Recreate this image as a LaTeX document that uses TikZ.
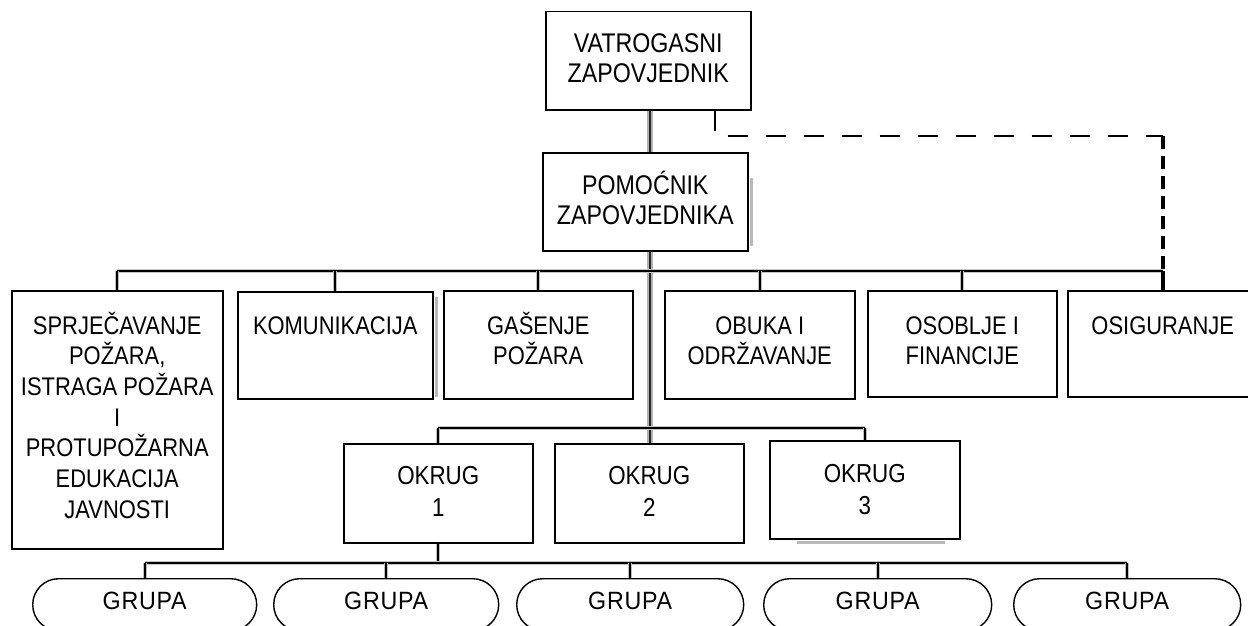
\documentclass[tikz,border=0pt]{standalone}
\usepackage{fontspec}
\setmainfont{Liberation Sans}[FakeStretch=0.86]
\newfontfamily\grfont{Liberation Sans}[FakeStretch=0.93,LetterSpace=3]
\usetikzlibrary{calc}
\begin{document}
\begin{tikzpicture}[x=1pt,y=-1pt,
  box/.style={draw, line width=1.5pt, inner sep=0pt, anchor=north west},
  grp/.style={draw, line width=1.4pt, inner sep=0pt, anchor=north west, rounded corners=26pt, minimum height=52pt},
  txt/.style={align=center, inner sep=0pt, anchor=base},
  topf/.style={font=\fontsize{27}{30.5}\selectfont},
  rowf/.style={font=\fontsize{25.5}{30.7}\selectfont},
  okf/.style={font=\fontsize{26}{32}\selectfont},
  grf/.style={font=\grfont\fontsize{25}{30}\selectfont},
  bus/.style={line width=1.3pt, black, preaction={draw, gray!45, line width=3.6pt}},
  drop/.style={line width=1.6pt, black, preaction={draw, gray!50, line width=4pt}},
  trunk/.style={line width=2.6pt, black!85, preaction={draw, gray!60, line width=6.5pt}},
  dashthin/.style={line width=2.2pt, dash pattern=on 20pt off 18pt},
  dashthick/.style={line width=4.5pt, dash pattern=on 13pt off 7pt},
  solidthick/.style={line width=4.5pt, black},
  shadowline/.style={line width=3pt, gray!55}
]
\useasboundingbox (0,0) rectangle (1248,626);
\clip (0,0) rectangle (1248,626);

% boxes
\node[box, minimum width=205pt, minimum height=98pt] (vz) at (545,11) {};
\node[box, minimum width=205pt, minimum height=98pt] (pz) at (542,152) {};
\node[box, minimum width=211pt, minimum height=258pt] (spr) at (11,290) {};
\node[box, minimum width=195pt, minimum height=107pt] (kom) at (237,291) {};
\node[box, minimum width=189pt, minimum height=108pt] (gas) at (443,290) {};
\node[box, minimum width=190pt, minimum height=108pt] (obu) at (664,290) {};
\node[box, minimum width=189pt, minimum height=106pt] (oso) at (867,290) {};
\node[box, minimum width=190pt, minimum height=106pt] (osi) at (1067,290) {};
\node[box, minimum width=189pt, minimum height=99pt] (ok1) at (343,443) {};
\node[box, minimum width=189pt, minimum height=99pt] (ok2) at (554,443) {};
\node[box, minimum width=190pt, minimum height=98pt] (ok3) at (769,440) {};
\node[grp, minimum width=224pt] (g1) at (32,578) {};
\node[grp, minimum width=225pt] (g2) at (273,578) {};
\node[grp, minimum width=227pt] (g3) at (516,578) {};
\node[grp, minimum width=228pt] (g4) at (763,578) {};
\node[grp, minimum width=227pt] (g5) at (1013,578) {};

% faint shadows
\draw[shadowline] ($(pz.north east)+(3,26)$) -- ($(pz.south east)+(3,-6)$);
\draw[shadowline] ($(kom.north east)+(3,6)$) -- ($(kom.south east)+(3,-3)$);
\draw[shadowline] ($(ok3.south west)+(28,3)$) -- ($(ok3.south east)+(-16,3)$);

% texts (anchor = baseline of the last line)
\node[txt, topf] (vzT) at ($(vz.north)+(0,71.5)$) {VATROGASNI\\ZAPOVJEDNIK};
\node[txt, topf] (pzT) at ($(pz.north)+(0,72.5)$) {POMOĆNIK\\ZAPOVJEDNIKA};
\node[txt, rowf] (sprT) at ($(spr.north)+(0,228.2)$) {SPRJEČAVANJE\\POŽARA,\\ISTRAGA POŽARA\\I\\PROTUPOŽARNA\\EDUKACIJA\\JAVNOSTI};
\node[txt, rowf] (komT) at ($(kom.north)+(0,43)$) {KOMUNIKACIJA};
\node[txt, rowf] (gasT) at ($(gas.north)+(0,74.7)$) {GAŠENJE\\POŽARA};
\node[txt, rowf] (obuT) at ($(obu.north)+(0,74.7)$) {OBUKA I\\ODRŽAVANJE};
\node[txt, rowf] (osoT) at ($(oso.north)+(0,74.7)$) {OSOBLJE I\\FINANCIJE};
\node[txt, rowf] (osiT) at ($(osi.north)+(0,44)$) {OSIGURANJE};
\node[txt, okf] (ok1T) at ($(ok1.north)+(0,73)$) {OKRUG\\1};
\node[txt, okf] (ok2T) at ($(ok2.north)+(0,73)$) {OKRUG\\2};
\node[txt, okf] (ok3T) at ($(ok3.north)+(0,74)$) {OKRUG\\3};
\foreach \g in {g1,g2,g3,g4,g5}{
  \node[txt, grf] (\g T) at ($(\g.north)+(0,31)$) {GRUPA};
}

% junction coordinates
\coordinate (T) at (650,271);
\coordinate (T2) at (650,428);
\coordinate (T3) at (437,563);
\coordinate (D) at (715,136);

% trunk
\draw[trunk] (vz.south -| T) -- (pz.north -| T);
\draw[trunk] (pz.south -| T) -- (ok2.north -| T);

% first bus
\draw[bus] (spr.north |- T) -- (osi.north |- T);
\foreach \b in {spr,kom,gas,obu,oso}{
  \draw[drop] (\b.north |- T) -- (\b.north);
}
\draw[solidthick] (osi.north |- T) -- (osi.north);

% dashed staff line
\draw[dashthin] (vz.south -| D) -- (D) -- (D -| osi.north);
\draw[dashthick] (D -| osi.north) -- (osi.north |- T);

% second bus
\draw[bus] (ok1.north |- T2) -- (ok3.north |- T2);
\draw[drop] (ok1.north |- T2) -- (ok1.north);
\draw[drop] (ok3.north |- T2) -- (ok3.north);

% third bus
\draw[drop] (ok1.south) -- (ok1.south |- T3);
\draw[bus] (g1.north |- T3) -- (g5.north |- T3);
\foreach \g in {g1,g2,g3,g4,g5}{
  \draw[drop] (\g.north |- T3) -- (\g.north);
}
\end{tikzpicture}
\end{document}
